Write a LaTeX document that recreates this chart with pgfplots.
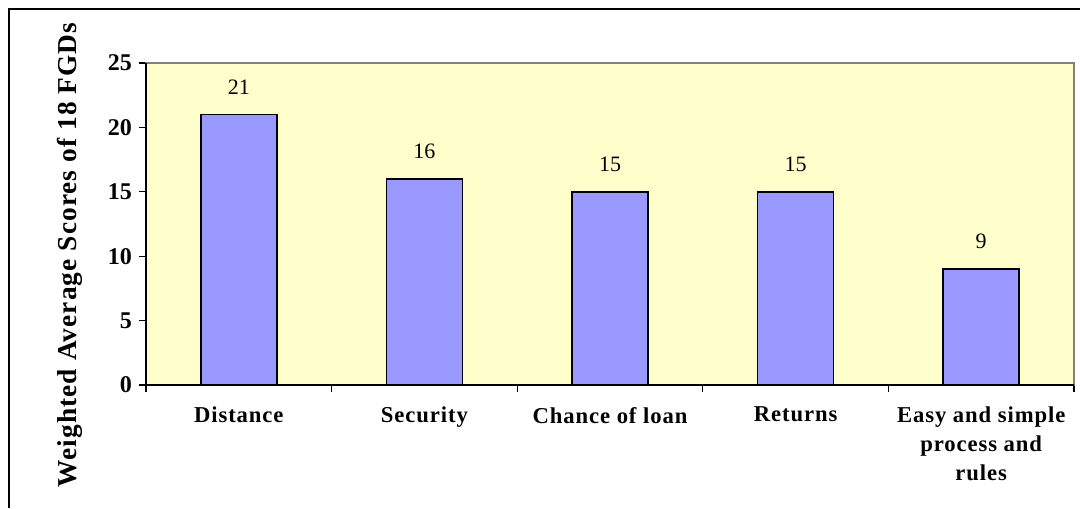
\documentclass[border=0pt]{standalone}
\usepackage{fontspec}
\setmainfont{Liberation Serif}
\newfontfamily\lblfont[LetterSpace=4]{Liberation Serif}
\usepackage{pgfplots}
\pgfplotsset{compat=1.18}
\definecolor{plotbg}{RGB}{255,255,204}
\definecolor{barblue}{RGB}{153,153,255}
\definecolor{framegray}{RGB}{128,128,128}

\begin{document}
\begin{tikzpicture}
\useasboundingbox (0,0) rectangle (810pt,381pt);
% chart area frame (only left and top edges visible)
\draw[black,line width=1.1pt] (6.75pt,0) -- (6.75pt,374.25pt) -- (810pt,374.25pt);
\begin{axis}[
at={(109.5pt,92.25pt)},anchor=south west,
scale only axis,width=696pt,height=241.5pt,
xmin=0.5,xmax=5.5,ymin=0,ymax=25,
ybar,bar width=57pt,
axis background/.style={fill=plotbg},
axis line style={draw=framegray,line width=1.4pt},
tick pos=left,
tick align=outside,
major tick length=5pt,
tick style={black,line width=0.8pt},
ytick={0,5,...,25},
xtick={0.5,1.5,...,5.5},
x tick label as interval,
xticklabels={Distance,Security,Chance of loan,Returns,{Easy and simple\\process and\\rules}},
/pgf/number format/assume math mode=true,
yticklabel style={font=\fontsize{18}{21}\selectfont\bfseries,xshift=-2pt},
xticklabel style={font=\lblfont\fontsize{17}{21.5}\selectfont\bfseries,align=center,yshift=-8pt},
nodes near coords,
every node near coord/.append style={font=\fontsize{16.5}{19}\selectfont,yshift=11.5pt,black},
clip=false]
\addplot[fill=barblue,draw=black,line width=1.1pt] coordinates {(1,21) (2,16) (3,15) (4,15) (5,9)};
\draw[black,line width=1.1pt] (rel axis cs:0,1) -- (rel axis cs:0,0) -- (rel axis cs:1,0);
\end{axis}
\node[rotate=90,font=\lblfont\fontsize{20.5}{24}\selectfont\bfseries] at (52.5pt,189.75pt) {Weighted Average Scores of 18 FGDs};
\end{tikzpicture}
\end{document}
